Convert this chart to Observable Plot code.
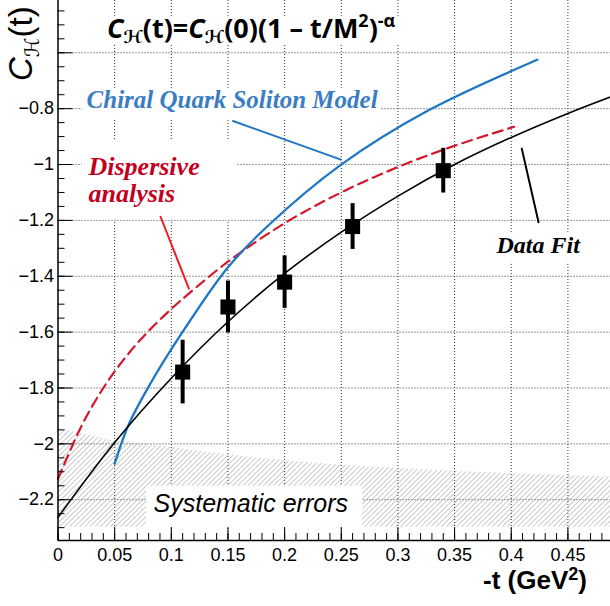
<!DOCTYPE html>
<html><head><meta charset="utf-8">
<script src="https://cdn.jsdelivr.net/npm/d3@7"></script>
<script src="https://cdn.jsdelivr.net/npm/@observablehq/plot@0.6"></script>
<style>html,body{margin:0;padding:0;background:#fff} svg{display:block}</style>
</head><body><div id="chart"></div>
<script>
// ---- data ----
const pointT   = [0.11, 0.15, 0.20, 0.26, 0.34];
const pointC   = [-1.743, -1.510, -1.421, -1.222, -1.022];
const pointErr = [0.114, 0.093, 0.094, 0.082, 0.080];

const fitT = [0, 0.05, 0.10, 0.15, 0.20, 0.25, 0.30, 0.35, 0.40, 0.45, 0.4876];
const fitC = [-2.263, -1.995, -1.765, -1.563, -1.390, -1.242, -1.113, -1.000, -0.903, -0.817, -0.758];

const chqsmT = [0.05, 0.0625, 0.0816, 0.1052, 0.149, 0.1846, 0.249, 0.327, 0.423];
const chqsmC = [-2.071, -1.930, -1.784, -1.629, -1.373, -1.222, -1.003, -0.806, -0.625];

const dispT = [0, 0.02, 0.04, 0.06, 0.08, 0.10, 0.1155, 0.15, 0.20, 0.25, 0.30, 0.35, 0.4025];
const dispC = [-2.126, -1.942, -1.800, -1.688, -1.596, -1.517, -1.462, -1.348, -1.210, -1.100, -1.009, -0.933, -0.865];

const sysT   = [0, 0.05, 0.10, 0.15, 0.20, 0.25, 0.30, 0.35, 0.40, 0.45, 0.4876];
const sysTop = [-1.945, -1.99, -2.012, -2.04, -2.06, -2.077, -2.088, -2.098, -2.107, -2.113, -2.119];
const sysBottom = -2.299;

const xMajorTicks = [0, 0.05, 0.10, 0.15, 0.20, 0.25, 0.30, 0.35, 0.40, 0.45];
const xTickLabels = ["0", "0.05", "0.1", "0.15", "0.2", "0.25", "0.3", "0.35", "0.4", "0.45"];
const yMajorTicks = [-2.2, -2.0, -1.8, -1.6, -1.4, -1.2, -1.0, -0.8, -0.6];
const yLabelTicks = [-2.2, -2.0, -1.8, -1.6, -1.4, -1.2, -1.0, -0.8];
const yTickLabels = ["\u22122.2", "\u22122", "\u22121.8", "\u22121.6", "\u22121.4", "\u22121.2", "\u22121", "\u22120.8"];
const xMinorTicks = d3.range(0, 49).map(i => i / 100);
const yMinorTicks = d3.range(0, 38).map(i => -2.30 + i * 0.05);

const xDomain = [0, 0.4876];
const yDomain = [-2.346, -0.4128];

// annotation anchors (data units)
const pointerChiral = [{t: 0.1545, c: -0.8444}, {t: 0.2497, c: -0.9826}];
const pointerDisp   = [{t: 0.0905, c: -1.187}, {t: 0.1155, c: -1.444}];
const pointerFit    = [{t: 0.4093, c: -0.943}, {t: 0.4241, c: -1.207}];
const boxes = [
  {t1: 0.0375, t2: 0.311,  c1: -0.5698, c2: -0.4695},
  {t1: 0.0216, t2: 0.2846, c1: -0.8347, c2: -0.7273},
  {t1: 0.0216, t2: 0.1584, c1: -1.20,   c2: -0.9135},
  {t1: 0.3817, t2: 0.4656, c1: -1.35,   c2: -1.2429},
  {t1: 0.078,  t2: 0.269,  c1: -2.299,  c2: -2.152}
];

// ---- build tables ----
const points = pointT.map((t, i) => ({t, c: pointC[i], lo: pointC[i] - pointErr[i], hi: pointC[i] + pointErr[i]}));
const fit = fitT.map((t, i) => ({t, c: fitC[i]}));
const chqsm = chqsmT.map((t, i) => ({t, c: chqsmC[i]}));
const disp = dispT.map((t, i) => ({t, c: dispC[i]}));
const sys = sysT.map((t, i) => ({t, top: sysTop[i], bottom: sysBottom}));

const W = 610, H = 606, ML = 57.5, MB = 66;
const PW = W - ML, PH = H - MB;
const serif = "'Liberation Serif', 'DejaVu Serif', serif";
const sans = "'Liberation Sans', Arial, sans-serif";

const plot = Plot.plot({
  width: W, height: H,
  marginLeft: ML, marginRight: 0, marginTop: 0, marginBottom: MB,
  x: {domain: xDomain, axis: null},
  y: {domain: yDomain, axis: null},
  style: {background: "white", overflow: "visible"},
  marks: [
    // grid
    Plot.ruleX(xMajorTicks.filter(d => d > 0), {x: d => d, stroke: "#333", strokeDasharray: "1,2", strokeWidth: 1}),
    Plot.ruleY(yMajorTicks, {y: d => d, stroke: "#333", strokeDasharray: "1,2", strokeWidth: 1}),
    // systematic error band
    Plot.areaY(sys, {x: "t", y1: "bottom", y2: "top", fill: "url(#hatch)"}),
    // label boxes
    Plot.rect(boxes, {x1: "t1", x2: "t2", y1: "c1", y2: "c2", fill: "white"}),
    // curves
    Plot.line(disp, {x: "t", y: "c", stroke: "#d4172a", strokeWidth: 2.2, strokeDasharray: "10,6", curve: "catmull-rom"}),
    Plot.line(chqsm, {x: "t", y: "c", stroke: "#1f77c4", strokeWidth: 2.3, curve: "catmull-rom"}),
    Plot.line(fit, {x: "t", y: "c", stroke: "black", strokeWidth: 1.6, curve: "catmull-rom"}),
    // data points
    Plot.ruleX(points, {x: "t", y1: "lo", y2: "hi", stroke: "black", strokeWidth: 4}),
    Plot.dot(points, {x: "t", y: "c", symbol: "square", r: 8.5, fill: "black"}),
    // pointers
    Plot.line(pointerChiral, {x: "t", y: "c", stroke: "#1f77c4", strokeWidth: 2}),
    Plot.line(pointerDisp, {x: "t", y: "c", stroke: "#ee1c25", strokeWidth: 2}),
    Plot.line(pointerFit, {x: "t", y: "c", stroke: "black", strokeWidth: 2}),
    // annotations
    Plot.text(["Chiral Quark Soliton Model"], {x: 0.0252, y: -0.799, text: d => d, textAnchor: "start", lineAnchor: "bottom",
      fill: "#3a7dc2", fontFamily: serif, fontWeight: "bold", fontStyle: "italic", fontSize: 25}),
    Plot.text(["Dispersive\nanalysis"], {x: 0.0269, y: -1.1355, text: d => d, textAnchor: "start", lineAnchor: "bottom", lineHeight: 1.04,
      fill: "#c2001e", fontFamily: serif, fontWeight: "bold", fontStyle: "italic", fontSize: 26}),
    Plot.text(["Data Fit"], {x: 0.387, y: -1.318, text: d => d, textAnchor: "start", lineAnchor: "bottom",
      fill: "black", fontFamily: serif, fontWeight: "bold", fontStyle: "italic", fontSize: 24}),
    Plot.text(["Systematic errors"], {x: 0.0843, y: -2.2455, text: d => d, textAnchor: "start", lineAnchor: "bottom",
      fill: "black", fontFamily: sans, fontStyle: "italic", fontSize: 25}),
    // ticks (inside the frame)
    Plot.ruleX(xMinorTicks, {x: d => d, insetTop: PH - 7, stroke: "black", strokeWidth: 1}),
    Plot.ruleX(xMajorTicks, {x: d => d, insetTop: PH - 13, stroke: "black", strokeWidth: 1}),
    Plot.ruleY(yMinorTicks, {y: d => d, insetRight: PW - 7, stroke: "black", strokeWidth: 1}),
    Plot.ruleY(yMajorTicks, {y: d => d, insetRight: PW - 15, stroke: "black", strokeWidth: 1}),
    // axis lines
    Plot.ruleX([xDomain[0]], {stroke: "black", strokeWidth: 1.5}),
    Plot.ruleY([yDomain[0]], {stroke: "black", strokeWidth: 1.5}),
    // tick labels
    Plot.text(xMajorTicks, {x: d => d, text: (d, i) => xTickLabels[i], frameAnchor: "bottom", lineAnchor: "top", dy: 8,
      fill: "black", fontFamily: sans, fontSize: 18}),
    Plot.text(yLabelTicks, {y: d => d, text: (d, i) => yTickLabels[i], frameAnchor: "left", textAnchor: "end", dx: -4,
      fill: "black", fontFamily: sans, fontSize: 18})
  ]
});

const svg = d3.select(plot);
svg.insert("defs", ":first-child").html(
  '<pattern id="hatch" patternUnits="userSpaceOnUse" width="3.6" height="3.6" patternTransform="rotate(45)">' +
  '<line x1="0" y1="0" x2="0" y2="3.6" stroke="#8c8c8c" stroke-width="0.9"/></pattern>');

function rich(x, y, parts, attrs, transform) {
  const t = svg.append("text").attr("x", x).attr("y", y).attr("fill", "black").attr("text-anchor", "start");
  if (transform) t.attr("transform", transform).attr("x", 0).attr("y", 0);
  for (const [k, v] of Object.entries(attrs)) t.attr(k, v);
  for (const p of parts) {
    const s = t.append("tspan").text(p.s);
    if (p.size) s.attr("font-size", p.size);
    if (p.dy) s.attr("dy", p.dy);
    if (p.italic) s.attr("font-style", "italic");
    if (p.family) s.attr("font-family", p.family);
  }
  return t;
}
const scriptFam = "'DejaVu Sans', 'Liberation Sans', sans-serif";

// formula title
rich(107, 38, [
  {s: "C", italic: true},
  {s: "\u210B", size: 18, dy: 5, italic: true, family: scriptFam},
  {s: "(t)=", dy: -5},
  {s: "C", italic: true},
  {s: "\u210B", size: 18, dy: 5, italic: true, family: scriptFam},
  {s: "(0)(1 \u2013 t/M", dy: -5},
  {s: "2", size: 18, dy: -11},
  {s: ")", dy: 11},
  {s: "-\u03B1", size: 18, dy: -11}
], {"font-family": "'Open Sans', 'Liberation Sans', sans-serif", "font-weight": "bold", "font-size": 27});

// y axis title
rich(0, 0, [
  {s: "C", italic: true},
  {s: "\u210B", size: 20, dy: 7, italic: true, family: scriptFam},
  {s: "(t)", dy: -7}
], {"font-family": sans, "font-size": 33}, "translate(32,81) rotate(-90)");

// x axis title
rich(587, 589, [
  {s: "-t (GeV"},
  {s: "2", size: 18, dy: -9},
  {s: ")", dy: 9}
], {"font-family": sans, "font-weight": "bold", "font-size": 26, "text-anchor": "end"});

document.getElementById("chart").appendChild(plot);
</script>
</body></html>
